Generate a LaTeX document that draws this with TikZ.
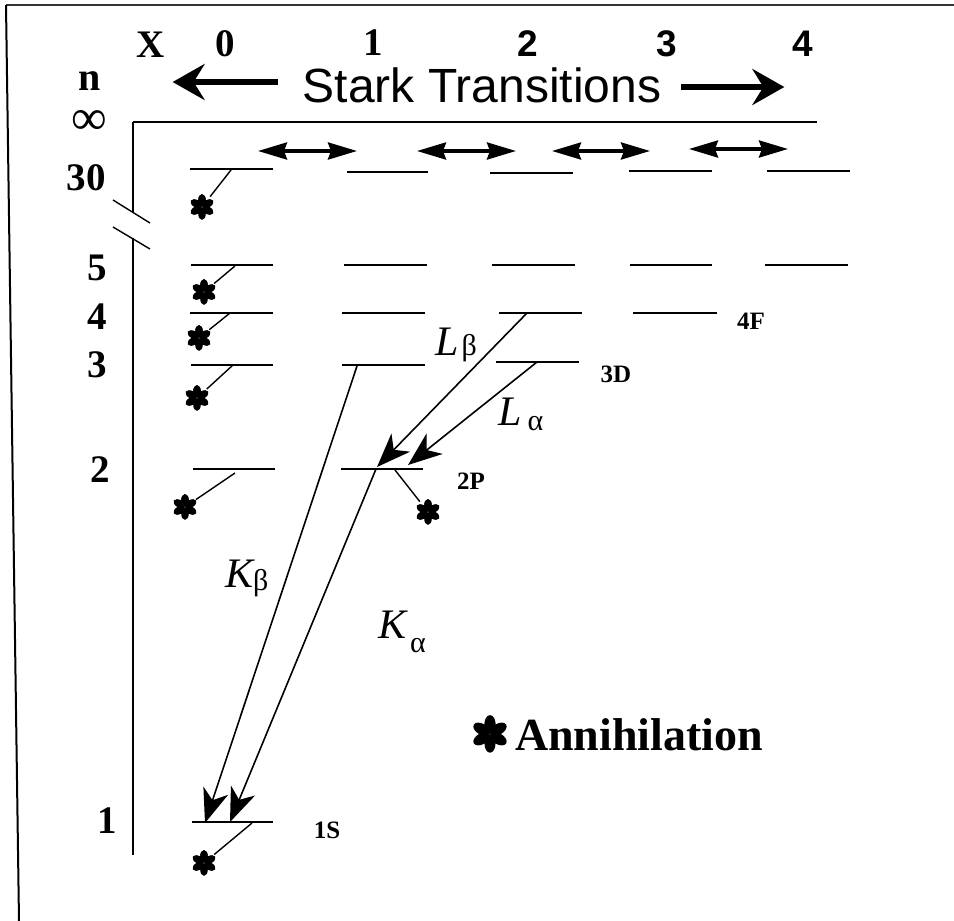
\documentclass[tikz,border=0pt]{standalone}
\usepackage{fontspec}
\setmainfont{Liberation Serif}
\setsansfont{Liberation Sans}
\usetikzlibrary{arrows.meta}

\newcommand{\fsz}[1]{\fontsize{#1}{#1}\selectfont}

\tikzset{
  lvl/.style={line width=1.8pt},
  decay/.style={line width=1.4pt},
  trans/.style={line width=1.6pt,-{Stealth[length=34pt,width=26pt,inset=10pt]}},
  bigarrow/.style={line width=6pt,-{Stealth[length=32pt,width=36pt,inset=11pt]}},
  mixarrow/.style={line width=3.5pt,{Stealth[length=29pt,width=17pt,inset=3pt]}-{Stealth[length=29pt,width=17pt,inset=3pt]}},
  starspot/.style={circle,inner sep=0pt,minimum size=26pt},
  pics/annstar/.style={code={
    \foreach \a in {90,150,...,450}
      \fill[rotate=\a] (6.6,0) ellipse[x radius=6.3,y radius=3.8];}},
  num/.style={font=\bfseries\fsz{39},inner sep=0pt},
  snum/.style={font=\sffamily\bfseries\fsz{37},inner sep=0pt},
  state/.style={font=\bfseries\fsz{25},inner sep=0pt},
  lname/.style={font=\itshape\fsz{42},inner sep=0pt,anchor=base west}
}

\begin{document}
\begin{tikzpicture}[x=1pt,y=-1pt]
\useasboundingbox (0,0) rectangle (954,921);
% frame
\draw[line width=2.5pt,black!80] (6,5) -- (954,5);
\draw[line width=2pt] (6,5) -- (19,921);

% axes with break
\coordinate (o) at (133,122);
\draw[line width=1.6pt] (o) -- (817,122);
\draw[line width=1.6pt] (o) -- (133,213);
\draw[line width=1.6pt] (133,238) -- (133,855);
\draw[line width=1.4pt] (113,200) -- (150,223) (113,227) -- (150,249);

% Stark transitions
\node[num] (X) at (151,45) {X};
\node[num] (x0) at (225,44) {0};
\node[num] (x1) at (373,43) {1};
\node[snum] (x2) at (528,44) {2};
\node[snum] (x3) at (667,44) {3};
\node[snum] (x4) at (803,44) {4};
\node[font=\sffamily\fsz{48},inner sep=0pt] (stark) at (482,85) {Stark Transitions};
\draw[bigarrow] ([xshift=-25pt,yshift=3pt]stark.west) -- ++(-105,0);
\draw[bigarrow] ([xshift=20pt,yshift=-2pt]stark.east) -- ++(103,0);

% n labels
\node[font=\bfseries\fsz{40},inner sep=0pt] (n) at (90,81) {n};
\node[font=\fsz{50},inner sep=0pt,anchor=base,text height=20pt,text depth=0pt] (ninf) at (89,134) {∞};
\node[num] (n30) at (86,178) {30};
\node[num] (n5) at (97,268) {5};
\node[num] (n4) at (97,317) {4};
\node[num] (n3) at (97,365) {3};
\node[num] (n2) at (100,470) {2};
\node[num] (n1) at (107,821) {1};

% levels
\foreach \xa/\xb/\y in {190/273/169, 191/273/265, 190/273/313, 191/273/365, 193/275/469, 192/273/822,
    347/428/172, 344/427/265, 342/425/313, 342/425/365, 341/423/469,
    490/573/173, 492/575/265, 499/582/313, 496/579/362,
    629/712/171, 630/712/265, 633/717/313,
    767/850/171, 765/848/265}
  \draw[lvl] (\xa,\y) -- (\xb,\y);

\node[state] (s4F) at (751,321) {4F};
\node[state] (s3D) at (616,374) {3D};
\node[state] (s2P) at (471,481) {2P};
\node[state] (s1S) at (327,830) {1S};

% mixing between l states
\draw[mixarrow] (258,151) -- (357,151);
\draw[mixarrow] (417,151) -- (516,151);
\draw[mixarrow] (552,151) -- (650,151);
\draw[mixarrow] (689,149) -- (788,149);

% annihilation
\foreach \nm/\ax/\ay/\sx/\sy in {a30/231/170/202/207, a5/235/266/204/292, a4/230/313/199/338,
    a3/233/365/197/398, a2/235/473/185/507, a1/252/823/204/863, a2P/395/470/428/512}{
  \node[starspot] (\nm) at (\sx,\sy) {};
  \pic at (\nm) {annstar};
  \draw[decay] (\ax,\ay) -- (\nm);
}

% x-ray transitions
\coordinate (k3) at (357,366);
\coordinate (p2) at (376,469);
\coordinate (f4) at (527,313);
\coordinate (d3) at (537,362);
\coordinate (s1b) at (205,823);
\coordinate (s1a) at (230,822);
\coordinate (p2b) at (377,467);
\coordinate (p2a) at (408,465);
\draw[trans] (k3) -- (s1b);
\draw[trans] (p2) -- (s1a);
\draw[trans] (f4) -- (p2b);
\draw[trans] (d3) -- (p2a);

\node[lname] (Lb) at (435,355) {L\hspace{3pt}\upshape\fsz{30}β};
\node[lname] (La) at (498,425) {L\hspace{6pt}\raisebox{-5pt}{\upshape\fsz{30}α}};
\node[lname] (Kb) at (225,587) {K\upshape\fsz{30}\raisebox{-3pt}{β}};
\node[lname] (Ka) at (378,638) {K\hspace{4pt}\raisebox{-14pt}{\upshape\fsz{30}α}};

% legend
\node[starspot,minimum size=38pt] (legstar) at (490,734) {};
\pic[scale=1.45] at (legstar) {annstar};
\node[font=\bfseries\fsz{46},inner sep=0pt,anchor=base west] (legend) at (515,750) {Annihilation};
\end{tikzpicture}
\end{document}
